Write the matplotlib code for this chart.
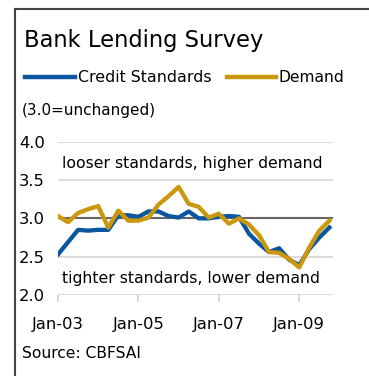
import matplotlib.pyplot as plt
from matplotlib.lines import Line2D

# quarterly survey, Q1 2003 .. Q4 2009
quarters = list(range(28))
credit_standards = [2.53, 2.69, 2.85, 2.84, 2.85, 2.85, 3.04, 3.04, 3.02, 3.09,
                    3.09, 3.03, 3.01, 3.09, 3.00, 3.00, 3.02, 3.03, 3.02, 2.80,
                    2.67, 2.56, 2.61, 2.46, 2.39, 2.60, 2.75, 2.88]
demand = [3.03, 2.95, 3.07, 3.12, 3.16, 2.88, 3.10, 2.97, 2.97, 3.01,
          3.18, 3.29, 3.41, 3.19, 3.15, 3.01, 3.06, 2.93, 3.00, 2.92,
          2.78, 2.56, 2.55, 2.47, 2.36, 2.62, 2.84, 2.97]
tick_pos = [0, 8, 16, 24]
tick_labels = ["Jan-03", "Jan-05", "Jan-07", "Jan-09"]
y_ticks = [2.0, 2.5, 3.0, 3.5, 4.0]

W, H = 369, 376
blue = "#0B56A0"
gold = "#C9980E"

plt.rcParams["font.family"] = "DejaVu Sans"
fig = plt.figure(figsize=(W / 100, H / 100), dpi=100)
ax = fig.add_axes([58 / W, 1 - 295 / H, 275 / W, (295 - 141.7) / H])

for y in y_ticks:
    if y != 3.0:
        ax.axhline(y, color="#D9D9D9", lw=1.3, zorder=1)
ax.axhline(3.0, color="#666666", lw=1.5, zorder=2)

ax.plot(quarters, credit_standards, color=blue, lw=3.1, zorder=3,
        solid_joinstyle="round")
ax.plot(quarters, demand, color=gold, lw=3.1, zorder=4,
        solid_joinstyle="round")

ax.set_xlim(0, 27.36)
ax.set_ylim(2.0, 4.0)
ax.set_yticks(y_ticks)
ax.set_yticklabels([f"{v:.1f}" for v in y_ticks], fontsize=11.8)
ax.set_xticks(tick_pos)
ax.set_xticklabels(tick_labels, fontsize=11.8)
ax.tick_params(axis="y", length=0, pad=9.5)
ax.tick_params(axis="x", length=5, color="#D0D0D0", width=1.2, pad=11)
for s in ax.spines.values():
    s.set_visible(False)

ax.text(0.4, 3.72, "looser standards, higher demand", fontsize=11.3,
        va="center", ha="left")
ax.text(0.4, 2.22, "tighter standards, lower demand", fontsize=11.3,
        va="center", ha="left")

# header, legend and source
fig.text(24 / W, 1 - 40 / H, "Bank Lending Survey", fontsize=16.3,
         va="center", ha="left")
fig.add_artist(Line2D([25 / W, 75 / W], [1 - 77 / H] * 2, color=blue, lw=3.2))
fig.text(78 / W, 1 - 77 / H, "Credit Standards", fontsize=11.4,
         va="center", ha="left")
fig.add_artist(Line2D([227 / W, 276 / W], [1 - 77 / H] * 2, color=gold, lw=3.2))
fig.text(279 / W, 1 - 77 / H, "Demand", fontsize=11.2, va="center", ha="left")
fig.text(22 / W, 1 - 110 / H, "(3.0=unchanged)", fontsize=11,
         va="center", ha="left")
fig.text(22 / W, 1 - 354 / H, "Source: CBFSAI", fontsize=11.2,
         va="center", ha="left")

# frame
fig.add_artist(Line2D([14.5 / W, 14.5 / W], [0, 1 - 8.5 / H],
                      color="#444444", lw=1.5))
fig.add_artist(Line2D([14.5 / W, 368 / W], [1 - 8.5 / H] * 2,
                      color="#444444", lw=1.5))

fig.savefig("out.png", dpi=100)
